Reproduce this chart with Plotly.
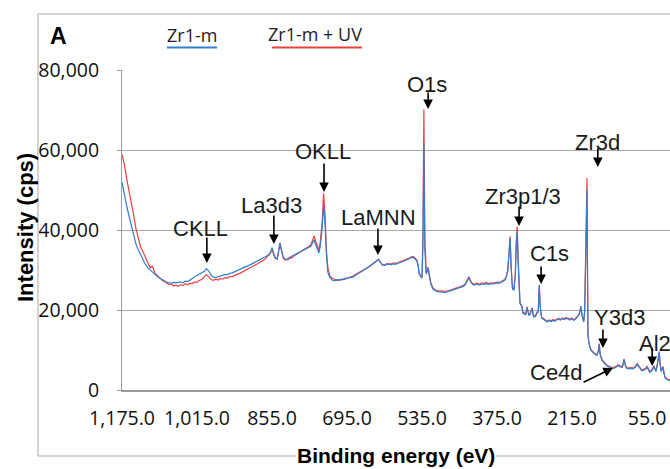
import plotly.graph_objects as go

# Binding energy (eV), descending
energy = [
    1175, 1170, 1165, 1160, 1155, 1150, 1145, 1140, 1135, 1130, 1125, 1120, 1115, 1110, 1105, 1100, 1095, 1090, 1085, 1080, 1075, 1070, 1065, 1060,
    1055, 1050, 1045, 1040, 1035, 1030, 1025, 1020, 1015, 1010, 1005, 1000, 995, 990, 985, 980, 975, 970, 965, 960, 955, 950, 945, 940, 935, 930, 925, 920, 915, 910, 905, 900, 895, 890, 885, 880, 875, 870,
    866, 862, 858, 855, 852, 848, 844, 841, 838, 835, 831, 827,
    822, 817, 812, 807, 802, 797, 792, 787, 782, 777, 772, 768, 765, 762, 758, 755, 752, 748, 745, 742, 739, 736, 732, 727,
    722, 717, 712, 707, 702, 697, 692, 687, 682, 677, 672, 667, 662, 657, 652, 647, 642, 637, 632, 628, 624, 620, 616, 612, 607, 602, 597,
    592, 588, 583, 578, 573, 567, 562, 557, 554, 550, 546, 543, 541, 538, 535, 533, 531, 529, 527, 526, 524, 522, 519, 516, 512, 507,
    502, 497, 492, 487, 482, 477, 472, 467, 462, 457, 452, 447, 443, 439, 435, 431, 427, 423, 418, 413, 408, 403, 398, 393, 388, 383, 378, 373, 369, 365, 361, 358, 355,
    352, 349, 347, 345, 342, 339, 336, 334, 332, 330, 328, 326, 322, 320, 317, 314, 311, 309, 307, 304, 300, 298, 296, 293, 290, 287, 285, 283, 280, 276,
    272, 268, 264, 260, 256, 252, 248, 244, 240, 236, 232, 228, 224, 220, 216, 212, 208, 204, 200, 198, 196, 194, 192, 190, 188, 186, 184, 183, 182, 181,
    179, 177, 174, 170, 166, 162, 159, 157, 155, 151, 147, 143, 140, 136, 132, 128, 124, 120, 117, 113, 108, 106, 104, 101, 98, 94, 90, 85, 80, 76,
    72, 68, 66, 62, 58, 55, 52, 49, 45, 42, 40, 38, 36, 33, 31, 29, 27, 25, 23, 21, 19, 17, 13, 9, 6,
]

# Intensity (cps) - Zr1-m + UV (red)
zr1m_uv = [
    58900, 56500, 52800, 50000, 46800, 43600, 40200, 37800, 35600, 34500, 33000, 31800, 30600, 30900, 29300, 28600, 28100, 27500, 27200, 26900, 26400, 26500, 26000, 26200,
    25900, 26300, 26100, 26600, 26300, 26700, 26600, 27000, 26900, 27400, 27600, 28200, 28800, 28300, 27600, 27400, 27700, 27500, 27900, 27700, 28100, 28000, 28400, 28300, 28700, 28900, 29100, 29400, 29700, 30000, 30200, 30500, 30900, 31200, 31600, 32000, 32300, 32700,
    33200, 33600, 34200, 35600, 34000, 32900, 32700, 34500, 36800, 35000, 33000, 32500,
    32600, 32900, 33100, 33600, 33900, 34300, 34700, 35100, 35400, 35800, 36400, 37500, 38500, 37200, 35600, 35000, 37000, 42000, 49200, 44000, 35000, 30700, 28600, 28000,
    27700, 27400, 27600, 27500, 27800, 27900, 28000, 28300, 28500, 28900, 29200, 29600, 29900, 30200, 30500, 30900, 31300, 31700, 32300, 32600, 32000, 31400, 31200, 31500, 31600, 31500, 31700,
    31600, 31700, 32000, 32200, 32500, 32700, 33000, 33300, 33400, 33000, 32500, 31000, 29200, 28600, 28200, 40000, 70200, 38000, 29500, 29200, 29800, 30700, 28500, 26700, 25600, 25000,
    24900, 24700, 24800, 24600, 24700, 24900, 25000, 25200, 25400, 25700, 25900, 26100, 26500, 27300, 28300, 27200, 26600, 26500, 26700, 26400, 26800, 26600, 26900, 26600, 26800, 26700, 26900, 27000, 26900, 27200, 27400, 27700, 28500,
    30000, 35000, 38400, 31000, 25500, 25200, 29000, 37000, 40800, 33000, 24500, 21800, 21000, 19500, 19300, 19000, 20800, 19200, 18800, 19300, 20600, 19000, 18400, 18600, 19400, 19600, 26000, 21000, 18200, 17900,
    17500, 17200, 17500, 17300, 17600, 17400, 17700, 17900, 17600, 18000, 17800, 18100, 18000, 17700, 18000, 17600, 17800, 18400, 19000, 19800, 21000, 19000, 17500, 17200, 20000, 32000, 46000, 53000, 30000, 14000,
    12000, 10800, 10000, 9500, 9100, 8800, 9800, 11600, 9000, 7600, 6900, 6500, 6200, 5900, 5700, 5600, 5700, 5900, 6300, 6000, 5800, 6500, 7800, 6200, 5600, 5500, 5600, 5500, 5900, 6600,
    5800, 5300, 5000, 5200, 5400, 5900, 5200, 4600, 5000, 5600, 6100, 5300, 4800, 6500, 8500, 9600, 6500, 4800, 5300, 5900, 4500, 3400, 2800, 2600, 2500,
]

# Intensity (cps) - Zr1-m (blue)
zr1m = [
    52000, 48800, 46000, 43500, 41000, 38600, 36400, 35000, 33800, 32500, 31400, 30600, 30000, 29400, 28900, 28400, 28000, 27600, 27200, 27000, 26800, 26700, 26900, 26800,
    26900, 27000, 26800, 27200, 27100, 27600, 27900, 28300, 28600, 28800, 29100, 29600, 30300, 29800, 28700, 28200, 28100, 28300, 28400, 28600, 28900, 28800, 29200, 29300, 29600, 29800, 30100, 30300, 30600, 30900, 31100, 31400, 31600, 31900, 32300, 32500, 32900, 33200,
    33500, 33900, 34500, 35500, 34200, 33000, 32800, 34600, 36700, 35100, 33200, 32700,
    32800, 33200, 33500, 33700, 34000, 34300, 34700, 34900, 35200, 35500, 35900, 36800, 37500, 36500, 34800, 34200, 36000, 40500, 46200, 42000, 34000, 29500, 28200, 27500,
    27300, 27600, 27400, 27700, 27600, 27800, 28100, 28100, 28200, 28700, 29000, 29400, 29800, 30100, 30500, 30900, 31300, 31800, 32300, 32700, 32000, 31300, 31100, 31300, 31500, 31300, 31500,
    31400, 31500, 31800, 32000, 32300, 32500, 32800, 33100, 33200, 32800, 32300, 30800, 29000, 28400, 28000, 36000, 61700, 35000, 29200, 29000, 29600, 30500, 28300, 26500, 25300, 24800,
    24600, 24500, 24500, 24400, 24500, 24700, 24800, 25000, 25200, 25500, 25700, 25900, 26300, 27000, 28000, 27000, 26400, 26200, 26500, 26200, 26500, 26400, 26600, 26400, 26600, 26500, 26700, 26800, 26700, 27000, 27200, 27500, 28300,
    29800, 34800, 38000, 30800, 25200, 25000, 28500, 36000, 39500, 32000, 24200, 21600, 20800, 19200, 19000, 18800, 20600, 19000, 18600, 19000, 20400, 18700, 18200, 18400, 19200, 19500, 26300, 21000, 18000, 17700,
    17300, 17000, 17300, 17100, 17400, 17200, 17500, 17700, 17500, 17800, 17600, 17900, 17800, 17500, 17800, 17400, 17600, 18200, 18800, 19600, 20800, 18800, 17300, 17000, 19500, 30000, 44000, 50000, 29000, 13700,
    11800, 10600, 9800, 9300, 8900, 8600, 9600, 11400, 8800, 7400, 6700, 6300, 6000, 5700, 5500, 5400, 5500, 5800, 6100, 5800, 5600, 6400, 7600, 6000, 5400, 5300, 5400, 5300, 5700, 6400,
    5600, 5100, 4800, 5000, 5200, 5700, 5000, 4400, 4800, 5400, 5900, 5100, 4600, 6300, 8300, 9400, 6300, 4600, 5100, 5700, 4300, 3200, 2600, 2400, 2300,
]

assert len(energy) == len(zr1m_uv) == len(zr1m)

x_ticks = [1175, 1015, 855, 695, 535, 375, 215, 55]
y_ticks = [0, 20000, 40000, 60000, 80000]

# peak labels: (text, text_eV, text_I, tip_eV, tip_I, ax, ay)
peak_labels = [
    ("CKLL", 1008, 40500, 994, 31750, 0, -27),
    ("La3d3", 857, 46250, 851, 36500, 0, -30),
    ("OKLL", 746, 59750, 744, 49500, 0, -30),
    ("LaMNN", 627, 43250, 629, 33750, 0, -28),
    ("O1s", 524, 76500, 522, 70250, 0, -18),
    ("Zr3p1/3", 319, 48500, 328, 41000, 0, -21),
    ("C1s", 264, 34250, 281, 26500, 0, -19),
    ("Zr3d", 160, 62000, 160, 55750, 0, -20),
    ("Y3d3", 113, 18250, 149, 10500, 0, -20),
    ("Ce4d", 249, 4500, 127.5, 5500, -31, 15),
]

RED = "#ef3e3e"
BLUE = "#2f7fcf"

fig = go.Figure()
fig.add_trace(go.Scatter(x=energy, y=zr1m_uv, mode="lines", name="Zr1-m + UV",
                         line=dict(color=RED, width=1.2)))
fig.add_trace(go.Scatter(x=energy, y=zr1m, mode="lines", name="Zr1-m",
                         line=dict(color=BLUE, width=1.2)))

annotations = []
label_font = dict(family="Liberation Sans, Arial, sans-serif", size=22, color="#1a1a1a")
for text, tx, ty, px, py, ax, ay in peak_labels:
    annotations.append(dict(x=tx, y=ty, xref="x", yref="y", text=text, showarrow=False,
                            font=label_font, xanchor="center", yanchor="middle"))
    annotations.append(dict(x=px, y=py, xref="x", yref="y", text="", showarrow=True,
                            ax=ax, ay=ay, arrowhead=2, arrowsize=1.2, arrowwidth=1.6,
                            arrowcolor="black"))
# Al2p label (cut at the right edge)
annotations.append(dict(x=76, y=11750, xref="x", yref="y", text="Al2p", showarrow=False,
                        font=label_font, xanchor="left", yanchor="middle"))
annotations.append(dict(x=44, y=6000, xref="x", yref="y", text="", showarrow=True,
                        ax=0, ay=-19, arrowhead=2, arrowsize=1.2, arrowwidth=1.6,
                        arrowcolor="black"))

def px_x(p):
    return (p - 122) / 548.0

def px_y(p):
    return (390 - p) / 320.0

# panel letter and custom legend
annotations.append(dict(x=px_x(58), y=px_y(36), xref="paper", yref="paper", text="<b>A</b>",
                        showarrow=False, xanchor="center", yanchor="middle",
                        font=dict(family="Liberation Sans, Arial, sans-serif", size=23, color="black")))
leg_font = dict(family="Open Sans, sans-serif", size=18, color="#222")
annotations.append(dict(x=px_x(192), y=px_y(35), xref="paper", yref="paper", text="Zr1-m",
                        showarrow=False, xanchor="center", yanchor="middle", font=leg_font))
annotations.append(dict(x=px_x(315), y=px_y(34), xref="paper", yref="paper", text="Zr1-m + UV",
                        showarrow=False, xanchor="center", yanchor="middle", font=leg_font))
# axis titles
annotations.append(dict(x=px_x(25), y=px_y(228), xref="paper", yref="paper",
                        text="<b>Intensity (cps)</b>", textangle=-90, showarrow=False,
                        xanchor="center", yanchor="middle",
                        font=dict(family="Liberation Sans, Arial, sans-serif", size=22, color="black")))
annotations.append(dict(x=px_x(396), y=px_y(455), xref="paper", yref="paper",
                        text="<b>Binding energy (eV)</b>", showarrow=False, bgcolor="white",
                        xanchor="center", yanchor="middle",
                        font=dict(family="Liberation Sans, Arial, sans-serif", size=21, color="black")))

frame = dict(color="#c4c4c4", width=1.5)
shapes = [
    dict(type="line", xref="paper", yref="paper", x0=px_x(38), x1=1.02, y0=px_y(14), y1=px_y(14), line=frame),
    dict(type="line", xref="paper", yref="paper", x0=px_x(38), x1=px_x(38), y0=px_y(14), y1=px_y(456), line=frame),
    dict(type="line", xref="paper", yref="paper", x0=px_x(38), x1=1.02, y0=px_y(456), y1=px_y(456), line=frame),
    dict(type="line", xref="paper", yref="paper", x0=px_x(167), x1=px_x(217), y0=px_y(47.5), y1=px_y(47.5),
         line=dict(color=BLUE, width=2)),
    dict(type="line", xref="paper", yref="paper", x0=px_x(272), x1=px_x(362), y0=px_y(47.5), y1=px_y(47.5),
         line=dict(color=RED, width=2)),
]

tick_font = dict(family="Open Sans, sans-serif", size=19.5, color="#111")
fig.update_layout(
    width=670, height=469,
    margin=dict(l=122, r=0, t=70, b=79),
    paper_bgcolor="white", plot_bgcolor="white",
    showlegend=False,
    annotations=annotations,
    shapes=shapes,
    xaxis=dict(range=[1175, 6], tickvals=x_ticks, tickformat=",.1f", showgrid=False,
               showline=True, linecolor="#9a9a9a", linewidth=2, ticks="", zeroline=False,
               tickfont=tick_font, ticklabelstandoff=10),
    yaxis=dict(range=[0, 80000], tickvals=y_ticks, tickformat=",", showgrid=True,
               gridcolor="#a8a8a8", gridwidth=1, showline=True, linecolor="#9a9a9a", linewidth=1,
               ticks="outside", ticklen=4, tickcolor="#9a9a9a", zeroline=False,
               tickfont=tick_font, ticklabelstandoff=14),
)

fig.write_html("out.html")
